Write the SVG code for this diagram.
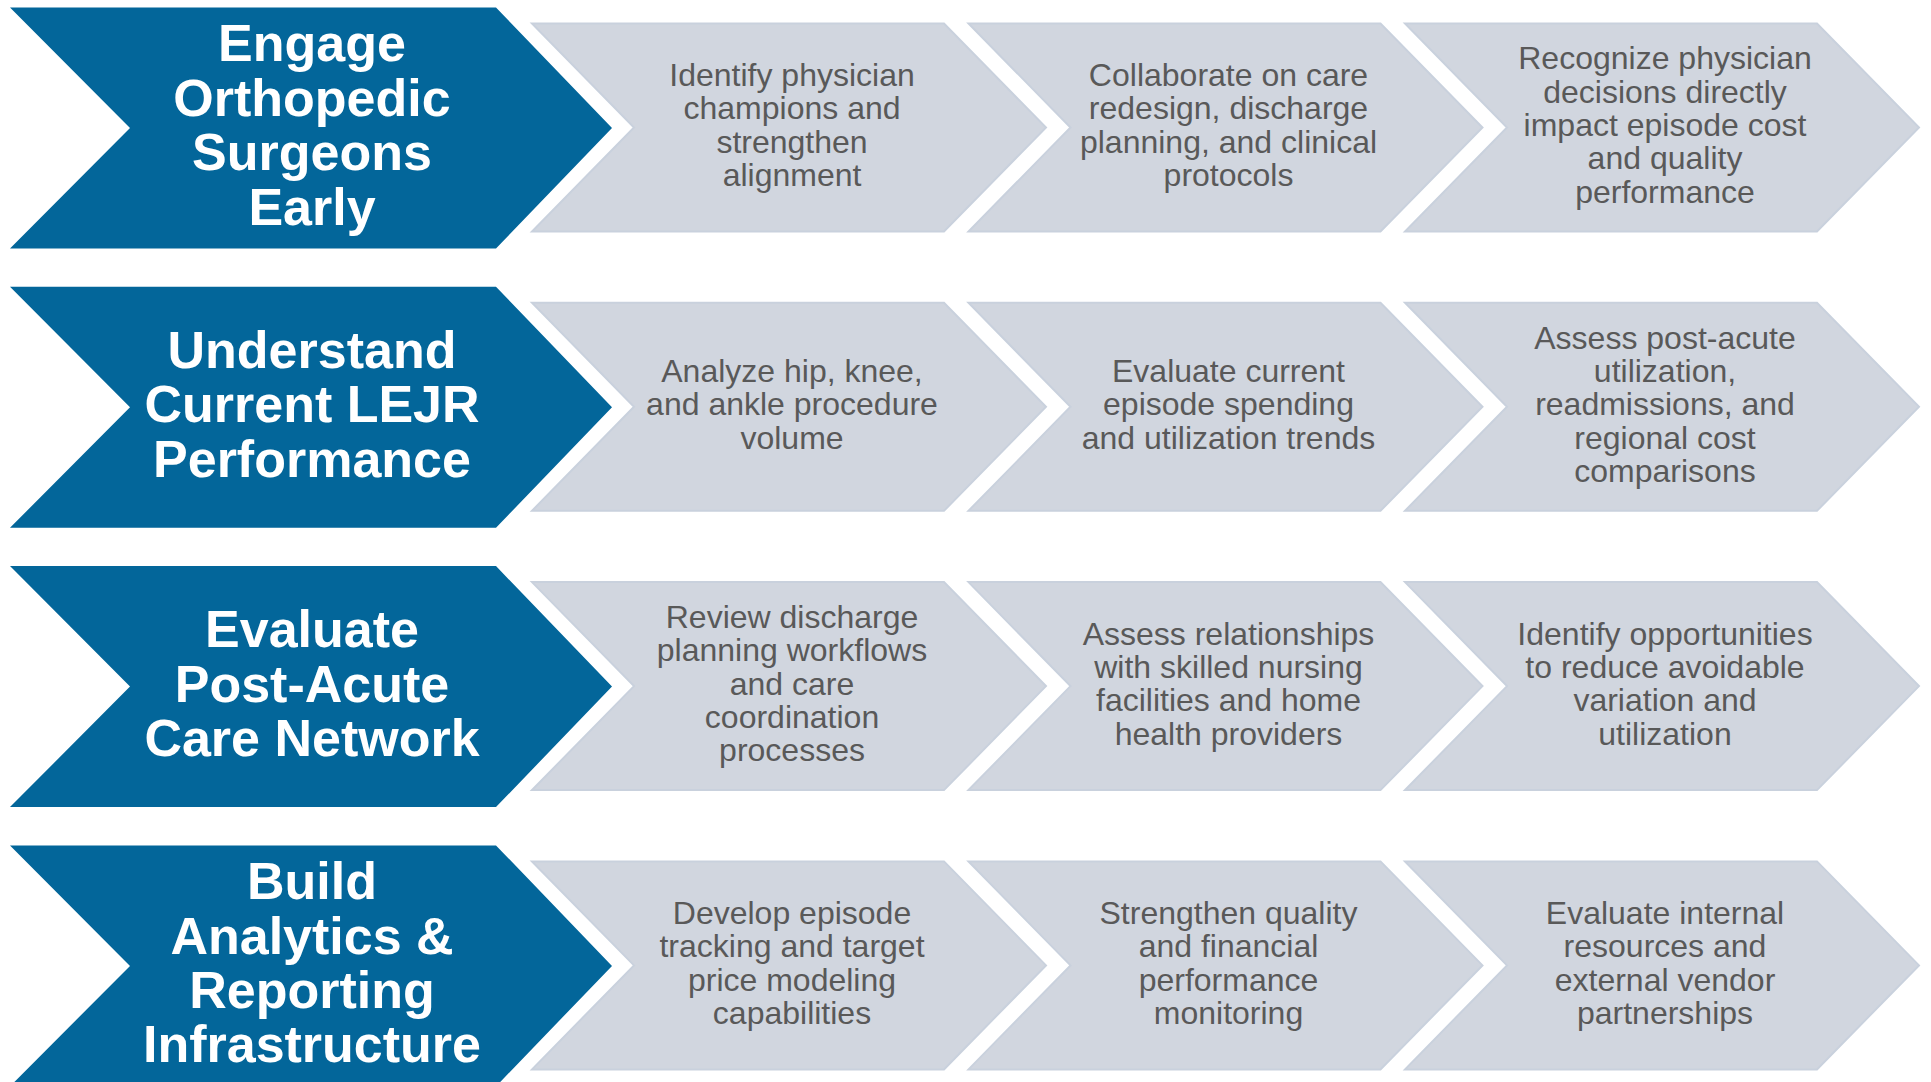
<svg xmlns="http://www.w3.org/2000/svg" xmlns:xlink="http://www.w3.org/1999/xlink" width="1931" height="1082" viewBox="0 0 1931 1082">
  <defs>
    <!-- Row-local chevron shapes -->
    <polygon id="lead" points="10,7.5 496,7.5 612,128 496,248.5 10,248.5 130,128"/>
    <polygon id="step" points="0,23.5 412,23.5 514,127.5 412,231.5 0,231.5 102,127.5"/>
  </defs>
  <style>
    .lead { fill: #03669A; }
    .step { fill: #D1D6DF; stroke: #C9D1DD; stroke-width: 2; stroke-linejoin: miter; }
    .ltxt { font-family: "Liberation Sans", Arial, sans-serif; font-weight: bold; font-size: 52px; fill: #FFFFFF; text-anchor: middle; }
    .stxt { font-family: "Liberation Sans", Arial, sans-serif; font-size: 32px; fill: #595959; text-anchor: middle; }
  </style>
  <rect width="1931" height="1082" fill="#FFFFFF"/>

  <g id="connectors"/>

  <!-- Row 1 -->
  <g transform="translate(0,0)">
    <g id="engage-surgeons">
      <use xlink:href="#lead" class="lead"/>
      <text class="ltxt" y="61.4"><tspan x="312">Engage</tspan><tspan x="312" dy="54.4">Orthopedic</tspan><tspan x="312" dy="54.4">Surgeons</tspan><tspan x="312" dy="54.4">Early</tspan></text>
    </g>
    <g id="identify-champions">
      <use xlink:href="#step" class="step" x="532"/>
      <text class="stxt" y="86.05"><tspan x="792">Identify physician</tspan><tspan x="792" dy="33.3">champions and</tspan><tspan x="792" dy="33.3">strengthen</tspan><tspan x="792" dy="33.3">alignment</tspan></text>
    </g>
    <g id="collaborate-redesign">
      <use xlink:href="#step" class="step" x="968.5"/>
      <text class="stxt" y="86.05"><tspan x="1228.5">Collaborate on care</tspan><tspan x="1228.5" dy="33.3">redesign, discharge</tspan><tspan x="1228.5" dy="33.3">planning, and clinical</tspan><tspan x="1228.5" dy="33.3">protocols</tspan></text>
    </g>
    <g id="recognize-decisions">
      <use xlink:href="#step" class="step" x="1405"/>
      <text class="stxt" y="69.4"><tspan x="1665">Recognize physician</tspan><tspan x="1665" dy="33.3">decisions directly</tspan><tspan x="1665" dy="33.3">impact episode cost</tspan><tspan x="1665" dy="33.3">and quality</tspan><tspan x="1665" dy="33.3">performance</tspan></text>
    </g>
  </g>

  <!-- Row 2 -->
  <g transform="translate(0,279.3)">
    <g id="understand-performance">
      <use xlink:href="#lead" class="lead"/>
      <text class="ltxt" y="88.6"><tspan x="312">Understand</tspan><tspan x="312" dy="54.4">Current LEJR</tspan><tspan x="312" dy="54.4">Performance</tspan></text>
    </g>
    <g id="analyze-volume">
      <use xlink:href="#step" class="step" x="532"/>
      <text class="stxt" y="102.7"><tspan x="792">Analyze hip, knee,</tspan><tspan x="792" dy="33.3">and ankle procedure</tspan><tspan x="792" dy="33.3">volume</tspan></text>
    </g>
    <g id="evaluate-spending">
      <use xlink:href="#step" class="step" x="968.5"/>
      <text class="stxt" y="102.7"><tspan x="1228.5">Evaluate current</tspan><tspan x="1228.5" dy="33.3">episode spending</tspan><tspan x="1228.5" dy="33.3">and utilization trends</tspan></text>
    </g>
    <g id="assess-post-acute">
      <use xlink:href="#step" class="step" x="1405"/>
      <text class="stxt" y="69.4"><tspan x="1665">Assess post-acute</tspan><tspan x="1665" dy="33.3">utilization,</tspan><tspan x="1665" dy="33.3">readmissions, and</tspan><tspan x="1665" dy="33.3">regional cost</tspan><tspan x="1665" dy="33.3">comparisons</tspan></text>
    </g>
  </g>

  <!-- Row 3 -->
  <g transform="translate(0,558.6)">
    <g id="evaluate-network">
      <use xlink:href="#lead" class="lead"/>
      <text class="ltxt" y="88.6"><tspan x="312">Evaluate</tspan><tspan x="312" dy="54.4">Post-Acute</tspan><tspan x="312" dy="54.4">Care Network</tspan></text>
    </g>
    <g id="review-discharge">
      <use xlink:href="#step" class="step" x="532"/>
      <text class="stxt" y="69.4"><tspan x="792">Review discharge</tspan><tspan x="792" dy="33.3">planning workflows</tspan><tspan x="792" dy="33.3">and care</tspan><tspan x="792" dy="33.3">coordination</tspan><tspan x="792" dy="33.3">processes</tspan></text>
    </g>
    <g id="assess-relationships">
      <use xlink:href="#step" class="step" x="968.5"/>
      <text class="stxt" y="86.05"><tspan x="1228.5">Assess relationships</tspan><tspan x="1228.5" dy="33.3">with skilled nursing</tspan><tspan x="1228.5" dy="33.3">facilities and home</tspan><tspan x="1228.5" dy="33.3">health providers</tspan></text>
    </g>
    <g id="identify-opportunities">
      <use xlink:href="#step" class="step" x="1405"/>
      <text class="stxt" y="86.05"><tspan x="1665">Identify opportunities</tspan><tspan x="1665" dy="33.3">to reduce avoidable</tspan><tspan x="1665" dy="33.3">variation and</tspan><tspan x="1665" dy="33.3">utilization</tspan></text>
    </g>
  </g>

  <!-- Row 4 -->
  <g transform="translate(0,837.9)">
    <g id="build-analytics">
      <use xlink:href="#lead" class="lead"/>
      <text class="ltxt" y="61.4"><tspan x="312">Build</tspan><tspan x="312" dy="54.4">Analytics &amp;</tspan><tspan x="312" dy="54.4">Reporting</tspan><tspan x="312" dy="54.4">Infrastructure</tspan></text>
    </g>
    <g id="develop-tracking">
      <use xlink:href="#step" class="step" x="532"/>
      <text class="stxt" y="86.05"><tspan x="792">Develop episode</tspan><tspan x="792" dy="33.3">tracking and target</tspan><tspan x="792" dy="33.3">price modeling</tspan><tspan x="792" dy="33.3">capabilities</tspan></text>
    </g>
    <g id="strengthen-monitoring">
      <use xlink:href="#step" class="step" x="968.5"/>
      <text class="stxt" y="86.05"><tspan x="1228.5">Strengthen quality</tspan><tspan x="1228.5" dy="33.3">and financial</tspan><tspan x="1228.5" dy="33.3">performance</tspan><tspan x="1228.5" dy="33.3">monitoring</tspan></text>
    </g>
    <g id="evaluate-resources">
      <use xlink:href="#step" class="step" x="1405"/>
      <text class="stxt" y="86.05"><tspan x="1665">Evaluate internal</tspan><tspan x="1665" dy="33.3">resources and</tspan><tspan x="1665" dy="33.3">external vendor</tspan><tspan x="1665" dy="33.3">partnerships</tspan></text>
    </g>
  </g>
</svg>
